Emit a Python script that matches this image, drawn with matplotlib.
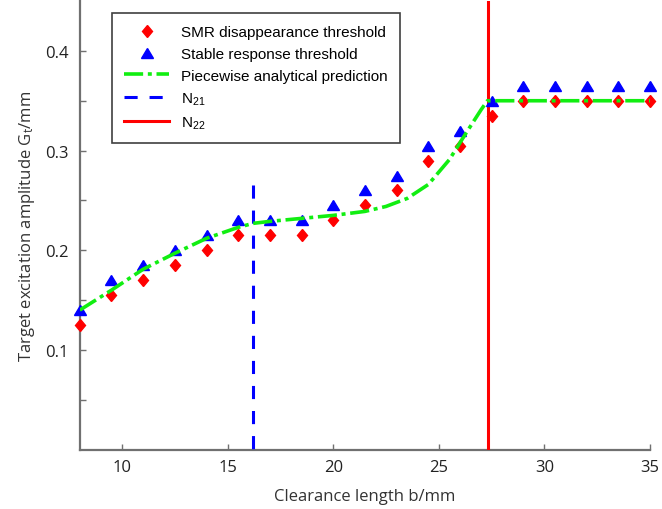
import numpy as np
import matplotlib
matplotlib.use('Agg')
import matplotlib.pyplot as plt
from matplotlib.markers import MarkerStyle
from matplotlib.transforms import Affine2D

# clearance length b (mm)
b = [8, 9.5, 11, 12.5, 14, 15.5, 17, 18.5, 20, 21.5, 23, 24.5, 26, 27.5,
     29, 30.5, 32, 33.5, 35]
# SMR disappearance threshold
smr = [0.125, 0.155, 0.170, 0.185, 0.200, 0.215, 0.215, 0.215, 0.230, 0.245,
       0.260, 0.290, 0.305, 0.335, 0.350, 0.350, 0.350, 0.350, 0.350]
# stable response threshold
stable = [0.140, 0.170, 0.185, 0.200, 0.215, 0.230, 0.230, 0.230, 0.245, 0.260,
          0.275, 0.305, 0.320, 0.350, 0.365, 0.365, 0.365, 0.365, 0.365]

# piecewise analytical prediction
pred_b = [8, 9.5, 11, 12.5, 14, 15.5, 16.2, 17, 18.5, 20, 21.5, 22.5, 23.5,
          24.5, 25.5, 26.3, 27.0, 27.3, 35]
pred_g = [0.140, 0.160, 0.181, 0.197, 0.212, 0.223, 0.227, 0.229, 0.232, 0.235,
          0.239, 0.244, 0.252, 0.266, 0.291, 0.318, 0.341, 0.350, 0.350]

n21 = 16.22
n21_top = 0.265
n22 = 27.31

plt.rcParams['mathtext.default'] = 'regular'

fig = plt.figure(figsize=(6.62, 5.10), dpi=100)
ax = fig.add_axes([0.1205, 0.1163, 0.8615, 0.8797])

diamond = MarkerStyle('D', transform=Affine2D().scale(0.51, 0.6))
tri = MarkerStyle('^', transform=Affine2D().scale(1.0, 0.82))

ax.plot(b, smr, linestyle='none', marker=diamond, markersize=10,
        color='#ff0000', label='SMR disappearance threshold', clip_on=False, zorder=4)
ax.plot(b, stable, linestyle='none', marker=tri, markersize=8,
        color='#0000ff', label='Stable response threshold', clip_on=False, zorder=4)
ax.plot(pred_b, pred_g, color='#11ee11', lw=2.6, dashes=(5.3, 1.3, 1.1, 1.3),
        label='Piecewise analytical prediction', zorder=5)
ax.plot([n21, n21], [n21_top, 0], color='#0000ff', lw=2.2, dashes=(4.3, 3.9),
        label='N$_{21}$', zorder=3)
ax.plot([n22, n22], [0.45, 0], color='#ff0000', lw=2.2, label='N$_{22}$', zorder=3)

ax.set_xlim(8, 35)
ax.set_ylim(0, 0.45)
ax.set_xticks([10, 15, 20, 25, 30, 35])
ax.set_yticks([0.1, 0.2, 0.3, 0.4])
ax.set_yticks([0.05, 0.15, 0.25, 0.35], minor=True)

for s in ['top', 'right']:
    ax.spines[s].set_visible(False)
for s in ['left', 'bottom']:
    ax.spines[s].set_color('#707070')
    ax.spines[s].set_linewidth(1.6)

ax.tick_params(which='both', direction='in', length=4.5, width=1, color='#707070',
               labelsize=12, labelcolor='#222222')
ax.tick_params(axis='y', pad=8)
ax.tick_params(axis='x', pad=7)
for lab in ax.get_xticklabels() + ax.get_yticklabels():
    lab.set_fontfamily('Open Sans')

ax.set_xlabel('Clearance length b/mm', fontsize=12, family='Open Sans',
              color='#333333', labelpad=9)
ax.set_ylabel('Target excitation amplitude G$_t$/mm', fontsize=12, family='Open Sans',
              color='#333333', labelpad=6)

leg = ax.legend(loc='upper left', bbox_to_anchor=(0.0565, 0.973), numpoints=1,
                fancybox=False, framealpha=1, edgecolor='#404040',
                prop={'family': 'Liberation Sans', 'size': 11},
                handlelength=2.95, handletextpad=0.78, labelspacing=0.5,
                borderpad=0.8, borderaxespad=0)
leg.get_frame().set_linewidth(1.2)

fig.savefig('out.png', dpi=100)
